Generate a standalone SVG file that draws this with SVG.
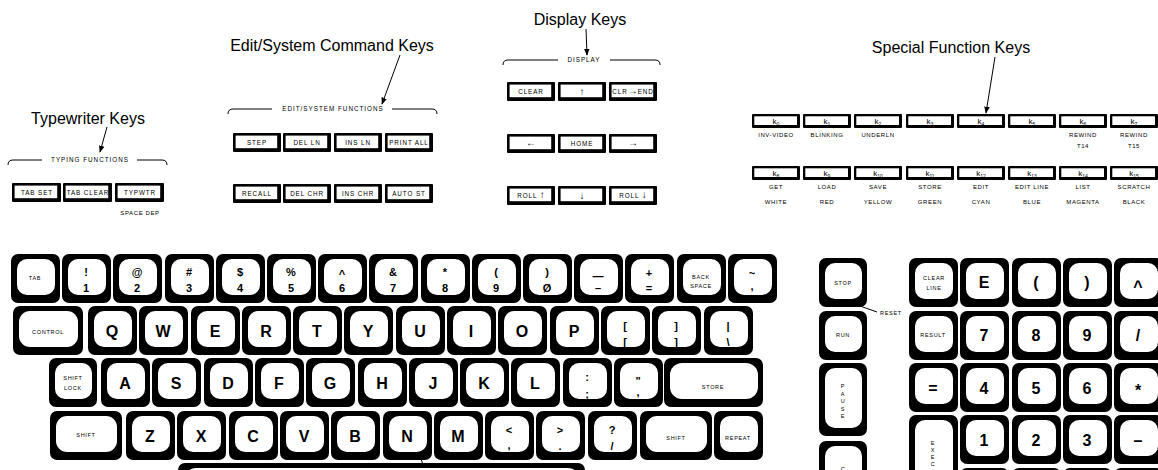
<svg xmlns="http://www.w3.org/2000/svg" xmlns:xlink="http://www.w3.org/1999/xlink" width="1158" height="470" viewBox="0 0 1158 470">
<style>
text{font-family:'Liberation Sans','DejaVu Sans',sans-serif;fill:#000;text-anchor:middle}
.t{font-size:16px}
.L{font-size:16px;font-weight:bold}
.N{font-size:16px;font-weight:bold}
.S{font-size:11px;font-weight:bold}
.s{font-size:5.5px;letter-spacing:.7px}
.f{font-size:6.3px;letter-spacing:.9px}
.ar{font-size:10px;font-weight:bold;letter-spacing:0}
.g{font-size:6px;letter-spacing:.6px}
.b{font-size:6.3px;letter-spacing:1px}
.k{font-size:8px}
.ko{fill:#000}
.ki{fill:#fff}
.ln{stroke:#000;stroke-width:1;fill:none}
</style>
<defs>
<marker id="ah" viewBox="0 0 10 10" refX="9" refY="5" markerWidth="7" markerHeight="7" orient="auto" markerUnits="userSpaceOnUse"><path d="M0,1 L10,5 L0,9 z" fill="#000"/></marker>
<g id="c49"><rect class="ko" width="49" height="49" rx="7"/><rect class="ki" x="6" y="5" width="38" height="36" rx="10"/></g>
<g id="c48"><rect class="ko" width="48" height="49" rx="7"/><rect class="ki" x="6" y="5" width="37" height="36" rx="10"/></g>
<g id="c70"><rect class="ko" width="70" height="49" rx="7"/><rect class="ki" x="6" y="5" width="59" height="36" rx="11"/></g>
<g id="c72"><rect class="ko" width="72" height="49" rx="7"/><rect class="ki" x="6" y="5" width="61" height="36" rx="11"/></g>
<g id="c99"><rect class="ko" width="99" height="49" rx="7"/><rect class="ki" x="6" y="5" width="88" height="36" rx="12"/></g>
<g id="cPause"><rect class="ko" width="48" height="73" rx="7"/><rect class="ki" x="6" y="5" width="37" height="60" rx="10"/></g>
<g id="cTall"><rect class="ko" width="48" height="70" rx="7"/><rect class="ki" x="6" y="5" width="37" height="57" rx="10"/></g>
<g id="cExec"><rect class="ko" width="49" height="90" rx="7"/><rect class="ki" x="6" y="5" width="38" height="77" rx="10"/></g>
<g id="cSpace"><rect class="ko" width="407" height="49" rx="7"/><rect class="ki" x="6" y="5" width="396" height="36" rx="12"/></g>
<g id="fk"><rect class="ko" width="48" height="19" rx="1"/><rect class="ki" x="2.6" y="2.6" width="41.6" height="12.6"/></g>
<g id="fk49"><rect class="ko" width="49" height="19" rx="1"/><rect class="ki" x="2.6" y="2.6" width="42.6" height="12.6"/></g>
<g id="sk"><rect class="ko" width="48" height="14" rx="1"/><rect class="ki" x="2.3" y="2.3" width="42.7" height="8.7"/></g>
</defs>
<rect width="1158" height="470" fill="#fff"/>

<!-- Titles and group brackets -->
<g id="title-typewriter"><text class="t" x="88" y="124">Typewriter Keys</text></g>
<g id="title-edit"><text class="t" x="332" y="51">Edit/System Command Keys</text></g>
<g id="title-display"><text class="t" x="580" y="25">Display Keys</text></g>
<g id="title-special"><text class="t" x="951" y="53">Special Function Keys</text></g>

<g id="group-typing">
<path class="ln" d="M8,165 Q8,160 13,160 L42,160 M137,160 L162,160 Q167,160 167,165"/>
<text class="b" x="90" y="162">TYPING FUNCTIONS</text>
</g>
<g id="group-edit">
<path class="ln" d="M228,114 Q228,109 233,109 L272,109 M392,109 L432,109 Q437,109 437,114"/>
<text class="b" x="333" y="111">EDIT/SYSTEM FUNCTIONS</text>
</g>
<g id="group-display">
<path class="ln" d="M503,65 Q503,60 508,60 L558,60 M610,60 L655,60 Q660,60 660,65"/>
<text class="b" x="584" y="62">DISPLAY</text>
</g>

<!-- Connectors -->
<g id="connectors">
<line class="ln" x1="107" y1="127" x2="100" y2="152" marker-end="url(#ah)"/>
<line class="ln" x1="400" y1="55" x2="382" y2="104" marker-end="url(#ah)"/>
<line class="ln" x1="586" y1="29" x2="587" y2="55" marker-end="url(#ah)"/>
<line class="ln" x1="995" y1="57" x2="986" y2="113" marker-end="url(#ah)"/>
<line class="ln" x1="860" y1="306" x2="877" y2="312"/>
<line class="ln" x1="421" y1="459" x2="425" y2="470"/>
</g>

<!-- Typing function keys -->
<g id="key-tabset"><use xlink:href="#fk49" x="12" y="183"/><text class="f" x="37" y="195">TAB SET</text></g>
<g id="key-tabclear"><use xlink:href="#fk49" x="63" y="183"/><text class="f" x="88" y="195">TAB CLEAR</text></g>
<g id="key-typwtr"><use xlink:href="#fk49" x="115" y="183"/><text class="f" x="140" y="195">TYPWTR</text></g>
<g id="label-spacedep"><text class="g" x="140" y="215">SPACE DEP</text></g>

<!-- Edit/System function keys -->
<g id="key-step"><use xlink:href="#fk" x="233" y="133"/><text class="f" x="257" y="145">STEP</text></g>
<g id="key-delln"><use xlink:href="#fk" x="283" y="133"/><text class="f" x="307" y="145">DEL LN</text></g>
<g id="key-insln"><use xlink:href="#fk" x="334" y="133"/><text class="f" x="358" y="145">INS LN</text></g>
<g id="key-printall"><use xlink:href="#fk" x="385" y="133"/><text class="f" x="409" y="145">PRINT ALL</text></g>
<g id="key-recall"><use xlink:href="#fk" x="233" y="184"/><text class="f" x="257" y="196">RECALL</text></g>
<g id="key-delchr"><use xlink:href="#fk" x="283" y="184"/><text class="f" x="307" y="196">DEL CHR</text></g>
<g id="key-inschr"><use xlink:href="#fk" x="334" y="184"/><text class="f" x="358" y="196">INS CHR</text></g>
<g id="key-autost"><use xlink:href="#fk" x="385" y="184"/><text class="f" x="409" y="196">AUTO ST</text></g>

<!-- Display keys -->
<g id="key-clear"><use xlink:href="#fk" x="507" y="82"/><text class="f" x="531" y="94">CLEAR</text></g>
<g id="key-up"><use xlink:href="#fk" x="558" y="82"/><text class="ar" x="582" y="95">↑</text></g>
<g id="key-clrend"><use xlink:href="#fk" x="609" y="82"/><text class="f" x="633" y="94">CLR<tspan class="ar" font-size="7px">→</tspan>END</text></g>
<g id="key-left"><use xlink:href="#fk" x="507" y="134"/><text class="ar" x="531" y="146">←</text></g>
<g id="key-home"><use xlink:href="#fk" x="558" y="134"/><text class="f" x="582" y="146">HOME</text></g>
<g id="key-right"><use xlink:href="#fk" x="609" y="134"/><text class="ar" x="633" y="146">→</text></g>
<g id="key-rollup"><use xlink:href="#fk" x="507" y="186"/><text class="f" x="531" y="198">ROLL <tspan class="ar" font-size="7px">↑</tspan></text></g>
<g id="key-down"><use xlink:href="#fk" x="558" y="186"/><text class="ar" x="582" y="199">↓</text></g>
<g id="key-rolldown"><use xlink:href="#fk" x="609" y="186"/><text class="f" x="633" y="198">ROLL <tspan class="ar" font-size="7px">↓</tspan></text></g>

<!-- Special function keys -->
<g id="key-k0"><use xlink:href="#sk" x="752" y="114"/><text class="k" x="776" y="124">k<tspan font-size="5" dy="1.5">0</tspan></text><text class="g" x="776" y="137">INV-VIDEO</text></g>
<g id="key-k1"><use xlink:href="#sk" x="803" y="114"/><text class="k" x="827" y="124">k<tspan font-size="5" dy="1.5">1</tspan></text><text class="g" x="827" y="137">BLINKING</text></g>
<g id="key-k2"><use xlink:href="#sk" x="854" y="114"/><text class="k" x="878" y="124">k<tspan font-size="5" dy="1.5">2</tspan></text><text class="g" x="878" y="137">UNDERLN</text></g>
<g id="key-k3"><use xlink:href="#sk" x="906" y="114"/><text class="k" x="930" y="124">k<tspan font-size="5" dy="1.5">3</tspan></text></g>
<g id="key-k4"><use xlink:href="#sk" x="957" y="114"/><text class="k" x="981" y="124">k<tspan font-size="5" dy="1.5">4</tspan></text></g>
<g id="key-k5"><use xlink:href="#sk" x="1008" y="114"/><text class="k" x="1032" y="124">k<tspan font-size="5" dy="1.5">5</tspan></text></g>
<g id="key-k6"><use xlink:href="#sk" x="1059" y="114"/><text class="k" x="1083" y="124">k<tspan font-size="5" dy="1.5">6</tspan></text><text class="g" x="1083" y="137">REWIND</text><text class="g" x="1083" y="148">T14</text></g>
<g id="key-k7"><use xlink:href="#sk" x="1110" y="114"/><text class="k" x="1134" y="124">k<tspan font-size="5" dy="1.5">7</tspan></text><text class="g" x="1134" y="137">REWIND</text><text class="g" x="1134" y="148">T15</text></g>
<g id="key-k8"><use xlink:href="#sk" x="752" y="166"/><text class="k" x="776" y="176">k<tspan font-size="5" dy="1.5">8</tspan></text><text class="g" x="776" y="189">GET</text><text class="g" x="776" y="204">WHITE</text></g>
<g id="key-k9"><use xlink:href="#sk" x="803" y="166"/><text class="k" x="827" y="176">k<tspan font-size="5" dy="1.5">9</tspan></text><text class="g" x="827" y="189">LOAD</text><text class="g" x="827" y="204">RED</text></g>
<g id="key-k10"><use xlink:href="#sk" x="854" y="166"/><text class="k" x="878" y="176">k<tspan font-size="5" dy="1.5">10</tspan></text><text class="g" x="878" y="189">SAVE</text><text class="g" x="878" y="204">YELLOW</text></g>
<g id="key-k11"><use xlink:href="#sk" x="906" y="166"/><text class="k" x="930" y="176">k<tspan font-size="5" dy="1.5">11</tspan></text><text class="g" x="930" y="189">STORE</text><text class="g" x="930" y="204">GREEN</text></g>
<g id="key-k12"><use xlink:href="#sk" x="957" y="166"/><text class="k" x="981" y="176">k<tspan font-size="5" dy="1.5">12</tspan></text><text class="g" x="981" y="189">EDIT</text><text class="g" x="981" y="204">CYAN</text></g>
<g id="key-k13"><use xlink:href="#sk" x="1008" y="166"/><text class="k" x="1032" y="176">k<tspan font-size="5" dy="1.5">13</tspan></text><text class="g" x="1032" y="189">EDIT LINE</text><text class="g" x="1032" y="204">BLUE</text></g>
<g id="key-k14"><use xlink:href="#sk" x="1059" y="166"/><text class="k" x="1083" y="176">k<tspan font-size="5" dy="1.5">14</tspan></text><text class="g" x="1083" y="189">LIST</text><text class="g" x="1083" y="204">MAGENTA</text></g>
<g id="key-k15"><use xlink:href="#sk" x="1110" y="166"/><text class="k" x="1134" y="176">k<tspan font-size="5" dy="1.5">15</tspan></text><text class="g" x="1134" y="189">SCRATCH</text><text class="g" x="1134" y="204">BLACK</text></g>

<!-- Main keyboard row 1 -->
<g id="key-tab"><use xlink:href="#c49" x="11" y="254"/><text class="s" x="35" y="280">TAB</text></g>
<g id="key-1"><use xlink:href="#c49" x="62" y="254"/><text class="S" x="86" y="276">!</text><text class="S" x="86" y="292">1</text></g>
<g id="key-2"><use xlink:href="#c49" x="113" y="254"/><text class="S" x="137" y="276">@</text><text class="S" x="137" y="292">2</text></g>
<g id="key-3"><use xlink:href="#c49" x="165" y="254"/><text class="S" x="189" y="276">#</text><text class="S" x="189" y="292">3</text></g>
<g id="key-4"><use xlink:href="#c49" x="216" y="254"/><text class="S" x="240" y="276">$</text><text class="S" x="240" y="292">4</text></g>
<g id="key-5"><use xlink:href="#c49" x="267" y="254"/><text class="S" x="291" y="276">%</text><text class="S" x="291" y="292">5</text></g>
<g id="key-6"><use xlink:href="#c49" x="318" y="254"/><text class="S" x="342" y="278">^</text><text class="S" x="342" y="292">6</text></g>
<g id="key-7"><use xlink:href="#c49" x="369" y="254"/><text class="S" x="393" y="276">&amp;</text><text class="S" x="393" y="292">7</text></g>
<g id="key-8"><use xlink:href="#c49" x="421" y="254"/><text class="S" x="445" y="276">*</text><text class="S" x="445" y="292">8</text></g>
<g id="key-9"><use xlink:href="#c49" x="472" y="254"/><text class="S" x="496" y="276">(</text><text class="S" x="496" y="292">9</text></g>
<g id="key-0"><use xlink:href="#c49" x="523" y="254"/><text class="S" x="547" y="276">)</text><text class="S" x="547" y="292">Ø</text></g>
<g id="key-minus"><use xlink:href="#c49" x="574" y="254"/><text class="S" x="598" y="280">—</text><text class="S" x="598" y="292">–</text></g>
<g id="key-equals"><use xlink:href="#c49" x="625" y="254"/><text class="S" x="649" y="277">+</text><text class="S" x="649" y="292">=</text></g>
<g id="key-backspace"><use xlink:href="#c49" x="677" y="254"/><text class="s" x="701" y="279">BACK</text><text class="s" x="701" y="288">SPACE</text></g>
<g id="key-tilde"><use xlink:href="#c49" x="728" y="254"/><text class="S" x="752" y="277" font-size="17">~</text><text class="S" x="752" y="290">,</text></g>

<!-- Row 2 -->
<g id="key-control"><use xlink:href="#c70" x="13" y="306"/><text class="s" x="48" y="334">CONTROL</text></g>
<g id="key-q"><use xlink:href="#c49" x="88" y="306"/><text class="L" x="112" y="337">Q</text></g>
<g id="key-w"><use xlink:href="#c49" x="139" y="306"/><text class="L" x="163" y="337">W</text></g>
<g id="key-e"><use xlink:href="#c49" x="191" y="306"/><text class="L" x="215" y="337">E</text></g>
<g id="key-r"><use xlink:href="#c49" x="242" y="306"/><text class="L" x="266" y="337">R</text></g>
<g id="key-t"><use xlink:href="#c49" x="293" y="306"/><text class="L" x="317" y="337">T</text></g>
<g id="key-y"><use xlink:href="#c49" x="344" y="306"/><text class="L" x="368" y="337">Y</text></g>
<g id="key-u"><use xlink:href="#c49" x="396" y="306"/><text class="L" x="420" y="337">U</text></g>
<g id="key-i"><use xlink:href="#c49" x="447" y="306"/><text class="L" x="471" y="337">I</text></g>
<g id="key-o"><use xlink:href="#c49" x="498" y="306"/><text class="L" x="522" y="337">O</text></g>
<g id="key-p"><use xlink:href="#c49" x="550" y="306"/><text class="L" x="574" y="337">P</text></g>
<g id="key-lbracket"><use xlink:href="#c49" x="601" y="306"/><text class="S" x="625" y="330">[</text><text class="S" x="625" y="346">[</text></g>
<g id="key-rbracket"><use xlink:href="#c49" x="652" y="306"/><text class="S" x="676" y="330">]</text><text class="S" x="676" y="346">]</text></g>
<g id="key-backslash"><use xlink:href="#c49" x="704" y="306"/><text class="S" x="728" y="330">|</text><text class="S" x="728" y="346">\</text></g>

<!-- Row 3 -->
<g id="key-shiftlock"><use xlink:href="#c48" x="49" y="358"/><text class="s" x="73" y="380">SHIFT</text><text class="s" x="73" y="390">LOCK</text></g>
<g id="key-a"><use xlink:href="#c49" x="101" y="358"/><text class="L" x="125" y="389">A</text></g>
<g id="key-s"><use xlink:href="#c49" x="152" y="358"/><text class="L" x="176" y="389">S</text></g>
<g id="key-d"><use xlink:href="#c49" x="204" y="358"/><text class="L" x="228" y="389">D</text></g>
<g id="key-f"><use xlink:href="#c49" x="255" y="358"/><text class="L" x="279" y="389">F</text></g>
<g id="key-g"><use xlink:href="#c49" x="306" y="358"/><text class="L" x="330" y="389">G</text></g>
<g id="key-h"><use xlink:href="#c49" x="358" y="358"/><text class="L" x="382" y="389">H</text></g>
<g id="key-j"><use xlink:href="#c49" x="409" y="358"/><text class="L" x="433" y="389">J</text></g>
<g id="key-k"><use xlink:href="#c49" x="460" y="358"/><text class="L" x="484" y="389">K</text></g>
<g id="key-l"><use xlink:href="#c49" x="511" y="358"/><text class="L" x="535" y="389">L</text></g>
<g id="key-semicolon"><use xlink:href="#c49" x="563" y="358"/><text class="S" x="587" y="381">:</text><text class="S" x="587" y="398">;</text></g>
<g id="key-quote"><use xlink:href="#c49" x="614" y="358"/><text class="S" x="638" y="385">"</text><text class="S" x="638" y="396">,</text></g>
<g id="key-store"><use xlink:href="#c99" x="664" y="358"/><text class="s" x="713" y="389">STORE</text></g>

<!-- Row 4 -->
<g id="key-lshift"><use xlink:href="#c72" x="50" y="411"/><text class="s" x="86" y="437">SHIFT</text></g>
<g id="key-z"><use xlink:href="#c49" x="126" y="411"/><text class="L" x="150" y="442">Z</text></g>
<g id="key-x"><use xlink:href="#c49" x="177" y="411"/><text class="L" x="201" y="442">X</text></g>
<g id="key-c"><use xlink:href="#c49" x="229" y="411"/><text class="L" x="253" y="442">C</text></g>
<g id="key-v"><use xlink:href="#c49" x="280" y="411"/><text class="L" x="304" y="442">V</text></g>
<g id="key-b"><use xlink:href="#c49" x="331" y="411"/><text class="L" x="355" y="442">B</text></g>
<g id="key-n"><use xlink:href="#c49" x="383" y="411"/><text class="L" x="407" y="442">N</text></g>
<g id="key-m"><use xlink:href="#c49" x="434" y="411"/><text class="L" x="458" y="442">M</text></g>
<g id="key-comma"><use xlink:href="#c49" x="485" y="411"/><text class="S" x="509" y="434">&lt;</text><text class="S" x="509" y="449">,</text></g>
<g id="key-period"><use xlink:href="#c49" x="536" y="411"/><text class="S" x="560" y="434">&gt;</text><text class="S" x="560" y="450">.</text></g>
<g id="key-slash"><use xlink:href="#c49" x="588" y="411"/><text class="S" x="612" y="434">?</text><text class="S" x="612" y="450">/</text></g>
<g id="key-rshift"><use xlink:href="#c72" x="640" y="411"/><text class="s" x="676" y="440">SHIFT</text></g>
<g id="key-repeat"><use xlink:href="#c49" x="714" y="411"/><text class="s" x="738" y="440">REPEAT</text></g>

<!-- Row 5 -->
<g id="key-space"><use xlink:href="#cSpace" x="178" y="463"/></g>

<!-- Control column -->
<g id="key-stop"><use xlink:href="#c48" x="819" y="258"/><text class="s" x="843" y="285">STOP</text></g>
<g id="label-reset"><text class="s" x="891" y="315">RESET</text></g>
<g id="key-run"><use xlink:href="#c48" x="819" y="311"/><text class="s" x="843" y="337">RUN</text></g>
<g id="key-pause"><use xlink:href="#cPause" x="819" y="363"/><text class="s" x="843" y="388">P</text><text class="s" x="843" y="395.5">A</text><text class="s" x="843" y="403">U</text><text class="s" x="843" y="410.5">S</text><text class="s" x="843" y="418">E</text></g>
<g id="key-cont"><use xlink:href="#cTall" x="819" y="441"/><text class="s" x="843" y="471">C</text></g>

<!-- Numeric pad -->
<g id="key-clearline"><use xlink:href="#c49" x="909" y="258"/><text class="s" x="934" y="280">CLEAR</text><text class="s" x="934" y="290">LINE</text></g>
<g id="key-pe"><use xlink:href="#c49" x="960" y="258"/><text class="N" x="984" y="288">E</text></g>
<g id="key-plparen"><use xlink:href="#c49" x="1012" y="258"/><text class="N" x="1036" y="288">(</text></g>
<g id="key-prparen"><use xlink:href="#c49" x="1063" y="258"/><text class="N" x="1087" y="288">)</text></g>
<g id="key-pcaret"><use xlink:href="#c49" x="1114" y="258"/><text class="N" x="1138" y="292">^</text></g>
<g id="key-result"><use xlink:href="#c49" x="909" y="311"/><text class="s" x="933" y="337">RESULT</text></g>
<g id="key-p7"><use xlink:href="#c49" x="960" y="311"/><text class="N" x="984" y="341">7</text></g>
<g id="key-p8"><use xlink:href="#c49" x="1012" y="311"/><text class="N" x="1036" y="341">8</text></g>
<g id="key-p9"><use xlink:href="#c49" x="1063" y="311"/><text class="N" x="1087" y="341">9</text></g>
<g id="key-pdiv"><use xlink:href="#c49" x="1114" y="311"/><text class="N" x="1138" y="341">/</text></g>
<g id="key-peq"><use xlink:href="#c49" x="909" y="363"/><text class="N" x="933" y="394">=</text></g>
<g id="key-p4"><use xlink:href="#c49" x="960" y="363"/><text class="N" x="984" y="394">4</text></g>
<g id="key-p5"><use xlink:href="#c49" x="1012" y="363"/><text class="N" x="1036" y="394">5</text></g>
<g id="key-p6"><use xlink:href="#c49" x="1063" y="363"/><text class="N" x="1087" y="394">6</text></g>
<g id="key-pmul"><use xlink:href="#c49" x="1114" y="363"/><text class="N" x="1138" y="396">*</text></g>
<g id="key-exec"><use xlink:href="#cExec" x="909" y="415"/><text class="s" x="933" y="445">E</text><text class="s" x="933" y="452">X</text><text class="s" x="933" y="459">E</text><text class="s" x="933" y="466">C</text></g>
<g id="key-p1"><use xlink:href="#c49" x="960" y="415"/><text class="N" x="984" y="446">1</text></g>
<g id="key-p2"><use xlink:href="#c49" x="1012" y="415"/><text class="N" x="1036" y="446">2</text></g>
<g id="key-p3"><use xlink:href="#c49" x="1063" y="415"/><text class="N" x="1087" y="446">3</text></g>
<g id="key-pminus"><use xlink:href="#c49" x="1114" y="415"/><text class="N" x="1138" y="446">–</text></g>
<g id="key-p0"><use xlink:href="#c49" x="960" y="468"/></g>
<g id="key-pr5b"><use xlink:href="#c49" x="1012" y="468"/></g>
<g id="key-pr5c"><use xlink:href="#c49" x="1063" y="468"/></g>
<g id="key-pr5d"><use xlink:href="#c49" x="1114" y="468"/></g>
</svg>
